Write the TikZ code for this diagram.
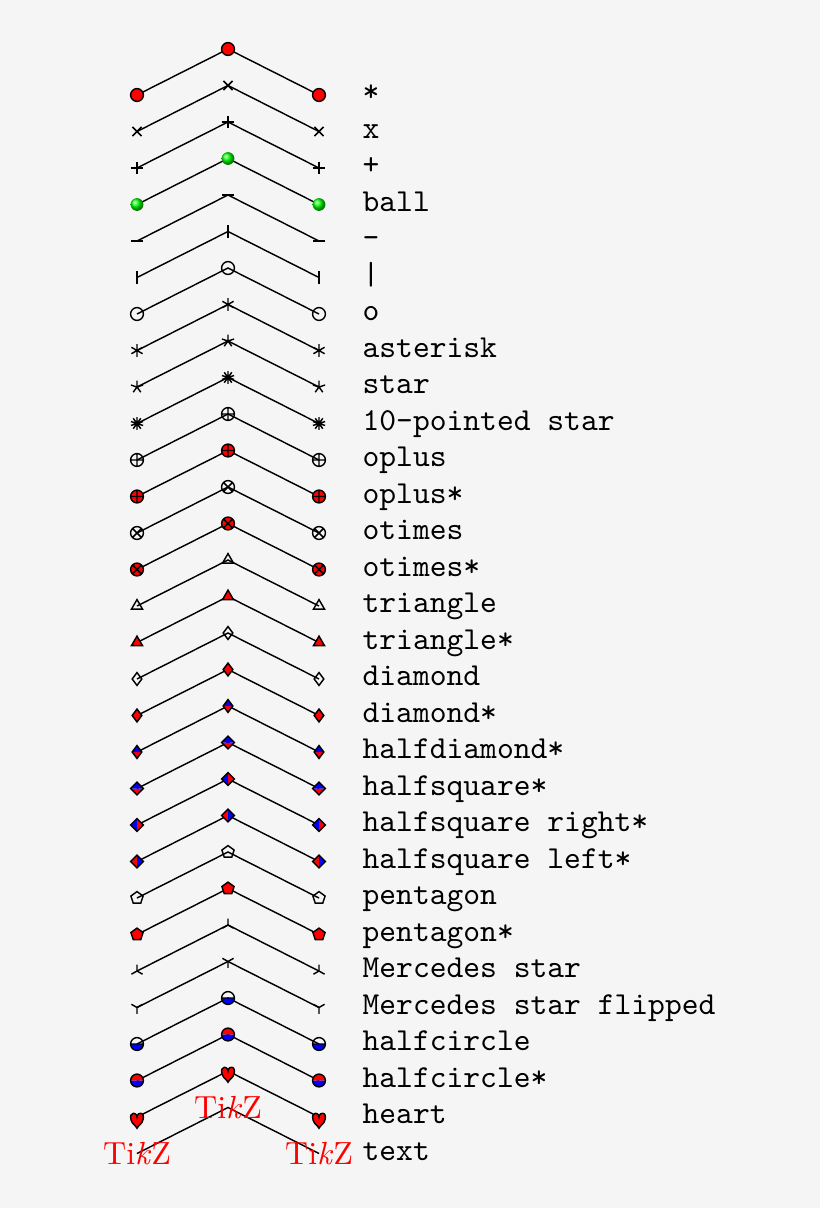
\documentclass[tikz,border=0pt]{standalone}
\usetikzlibrary{plotmarks}
\definecolor{bg}{RGB}{245,245,245}
\begin{document}
\begin{tikzpicture}[x=0.3125pt,y=-0.3125pt,
  rowline/.style={black, line width=0.45pt},
  lbl/.style={anchor=mid west, inner sep=0pt, font=\ttfamily}]
\fill[bg] (0,0) rectangle (820,1208);
\useasboundingbox (0,0) rectangle (820,1208);
\foreach \mk [count=\i from 0] in {*, x, +, ball, -, |, o, asterisk, star,
  10-pointed star, oplus, oplus*, otimes, otimes*, triangle, triangle*,
  diamond, diamond*, halfdiamond*, halfsquare*, halfsquare right*,
  halfsquare left*, pentagon, pentagon*, Mercedes star, Mercedes star flipped,
  halfcircle, halfcircle*, heart}{
  \pgfmathsetmacro\yy{95+36.5*\i}
  \coordinate (l\i) at (137,\yy);
  \coordinate (m\i) at (228,\yy-46);
  \coordinate (r\i) at (319,\yy);
  \draw[rowline] plot[mark=\mk, mark options={fill=red}, mark color=blue, ball color=green]
    coordinates {(l\i) (m\i) (r\i)};
  \node[lbl] (t\i) at (362,\yy) {\mk};
}
\pgfmathsetmacro\yy{95+36.5*29}
\coordinate (l29) at (137,\yy);
\coordinate (m29) at (228,\yy-46);
\coordinate (r29) at (319,\yy);
\draw[rowline] plot[mark=text, text mark={\color{red}Ti\emph{k}Z}, mark options={red}]
  coordinates {(l29) (m29) (r29)};
\node[lbl] (t29) at (362,\yy) {text};
\end{tikzpicture}
\end{document}
